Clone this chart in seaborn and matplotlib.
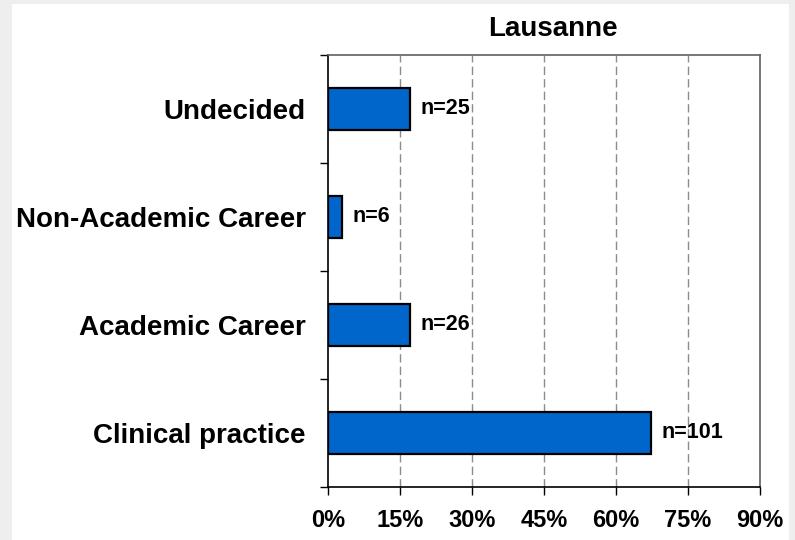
import matplotlib
matplotlib.use("Agg")
import matplotlib.pyplot as plt
import matplotlib.patches as mpatches
import seaborn as sns
import pandas as pd

# data
categories = ["Undecided", "Non-Academic Career", "Academic Career", "Clinical practice"]
percent = [17.1, 2.9, 17.1, 67.3]
counts = [25, 6, 26, 101]
xticks = [0, 15, 30, 45, 60, 75, 90]

df = pd.DataFrame({"category": categories, "percent": percent, "n": counts})

sns.set_theme(style="white")
plt.rcParams['font.family'] = ['Liberation Sans', 'DejaVu Sans']
plt.rcParams['font.weight'] = 'bold'
plt.rcParams['text.color'] = 'black'
plt.rcParams['xtick.color'] = 'black'
plt.rcParams['ytick.color'] = 'black'

fig = plt.figure(figsize=(7.95, 5.4), dpi=100, facecolor="#eeeeee")
# white panel behind the chart
fig.patches.append(mpatches.Rectangle((12/795, 0), (789-12)/795, 1-4/540,
                                      transform=fig.transFigure, facecolor="white",
                                      edgecolor="none", zorder=-10))
ax = fig.add_axes([328/795, 1-487/540, 432/795, 432/540])
ax.set_facecolor("white")

sns.barplot(data=df, x="percent", y="category", orient="h", color="#0066cc",
            saturation=1, width=0.39, edgecolor="black", linewidth=1.6, ax=ax, zorder=3)

for i, row in df.iterrows():
    ax.text(row["percent"] + 2.1, i, f"n={row['n']}", va="center", ha="left",
            fontsize=15.5, fontweight="bold", color="black", zorder=4)

ax.set_xlim(0, 90)
ax.set_ylim(3.5, -0.5)
ax.set_xticks(xticks)
ax.set_xticklabels([f"{t}%" for t in xticks], fontsize=17, fontweight="bold")
ax.set_yticks(range(len(categories)))
ax.set_yticklabels(categories, fontsize=20, fontweight="bold")
ax.set_yticks([-0.5, 0.5, 1.5, 2.5, 3.5], minor=True)
ax.tick_params(axis="y", which="major", length=0, pad=16)
ax.tick_params(axis="y", which="minor", length=6, width=1, color="black", direction="out", left=True)
ax.tick_params(axis="x", which="major", length=6, width=1, color="black",
               direction="out", pad=10, bottom=True)
ax.set_xlabel("")
ax.set_ylabel("")

for t in xticks[1:-1]:
    ax.axvline(t, color="#8c8c8c", linewidth=1, linestyle=(0, (6, 3)), zorder=1)

for side in ["left", "bottom"]:
    ax.spines[side].set_color("black")
    ax.spines[side].set_linewidth(1.2)
for side in ["top", "right"]:
    ax.spines[side].set_visible(True)
    ax.spines[side].set_color("#606060")
    ax.spines[side].set_linewidth(1.2)

ax.set_title("Lausanne", fontsize=20, fontweight="bold", x=0.52, pad=14, color="black")

fig.savefig("out.png", dpi=100, facecolor=fig.get_facecolor())
